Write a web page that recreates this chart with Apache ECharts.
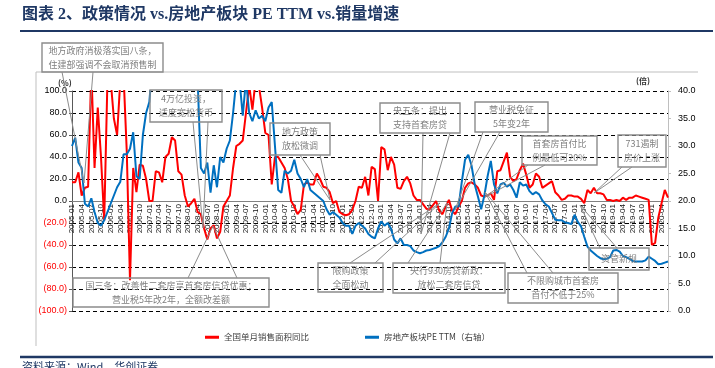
<!DOCTYPE html>
<html>
<head>
<meta charset="utf-8">
<script src="https://cdn.jsdelivr.net/npm/echarts@6/dist/echarts.min.js"></script>
<style>
  html, body { margin: 0; padding: 0; background: #fff; }
  #chart { width: 715px; height: 368px; }
</style>
</head>
<body>
<div id="chart"></div>
<script>
// 月份：2005-01 ~ 2020-06
const months = [];
for (let y = 2005; y <= 2020; y++) {
  for (let m = 1; m <= 12; m++) {
    if (y === 2020 && m > 6) break;
    months.push(y + '-' + String(m).padStart(2, '0'));
  }
}

// 全国单月销售面积同比（%，左轴）
const salesYoY = [
  17, 17, 26, 5, 12, 13, 120, 30, 85, 40, -18, 110,      // 2005
  110, 75, 60, 110, 115, 45, -72, 30, 8, 33, 32, 20,      // 2006
  0, 0, 27, 26, 17, 40, 43, 58, 55, 27, 24, 5,            // 2007
  -5, -2, 2, -10, -12, -25, -35, -25, -22, -34, -28, -5,  // 2008
  0, 5, 30, 50, 52, 55, 80, 105, 83, 110, 105, 85,        // 2009
  62, 60, 15, 40, 40, 35, 30, 20, 0, -5, -12, -8,         // 2010
  15, 17, 15, 15, 25, 20, 13, 12, 8, -2, 0, -10,          // 2011
  -12, -13, -12, -8, 0, 13, 12, 22, 5, 31, 29, 0,         // 2012
  49, 47, 28, 40, 33, 12, 11, 18, 22, 16, 5, 1,           // 2013
  1, -3, -7, -8, -4, 0, -9, -12, -5, 1, -9, -12,          // 2014
  -5, 0, 12, 16, 17, 15, 12, 5, 4, 5, 7, 1,               // 2015
  27, 28, 36, 44, 22, 18, 20, 28, 34, 24, 12, 15,         // 2016
  25, 22, 12, 14, 16, 18, 8, 5, 1, 2, 5, 5,               // 2017
  4, 4, 2, -2, 10, 7, 12, 7, 7, 6, 1, 1,                  // 2018
  0, 1, 0, 3, 1, 3, 3, 5, 4, 3, 2, 1,                     // 2019
  -40, -38, -15, -2, 10, 3                                // 2020
];

// 房地产板块PE TTM（倍，右轴）
const peTTM = [
  30, 31.5, 27, 26, 19.5, 19, 20.5, 18, 16, 15.5, 16.5, 18,           // 2005
  19.5, 21, 22.5, 23.5, 28.5, 28.5, 29.5, 32.5, 24.5, 24, 32, 36,     // 2006
  38, 45, 48, 55, 60, 62, 58, 65, 70, 68, 62, 55,                     // 2007
  58, 50, 45, 42, 26, 25, 27, 21.5, 26.5, 22.5, 28, 27,               // 2008
  29.5, 31, 36, 42, 42, 35.5, 42, 36, 34.5, 36.5, 35, 35.5,           // 2009
  34.5, 37, 38, 30, 22, 21.5, 25.5, 25, 25.5, 27.5, 25, 24,           // 2010
  22.5, 24, 22, 21.5, 21, 20.5, 20, 18.5, 17.5, 18, 17.5, 17,         // 2011
  16, 15.5, 15.5, 14, 15.5, 16, 15.5, 15, 14, 13.5, 13.2, 15,         // 2012
  16.3, 15.5, 16, 15, 13, 12.3, 13.2, 12, 12, 11.8, 11, 10.7,         // 2013
  10.5, 10.7, 11, 11.1, 11.3, 11.5, 11.8, 12.5, 13.5, 15, 17.8, 19,   // 2014
  19, 23.5, 27.5, 28.4, 26.5, 23, 20.8, 18.5, 21, 24.5, 27.3, 23,     // 2015
  21.4, 23, 23.3, 22.6, 23, 22, 20.6, 23.4, 22.8, 23, 21.8, 21.2,     // 2016
  21.6, 21.2, 20.1, 19.4, 19, 17.8, 16.6, 16.5, 16.5, 16.1, 16, 15.8, // 2017
  17.5, 16.2, 15.4, 13.5, 11.7, 11, 10.5, 10, 9.6, 9.4, 9.5, 9.8,     // 2018
  11, 11.1, 10.8, 10, 9.8, 9.5, 9.1, 9, 9, 9, 9.2, 9.9,               // 2019
  9.5, 9.1, 8.5, 8.6, 8.8, 9.0                                        // 2020
];

const leftTicks = { min: -100, max: 100, step: 20 };
const rightTicks = { min: 0, max: 40, step: 5 };

// 政策标注：文字、框、楔形指针
const notes = [
  { text: '地方政府消极落实国八条，\n住建部强调不会取消预售制', box: [42, 43, 121, 29], base: [[62, 72], [93, 72]], tip: [84, 183] },
  { text: '4万亿投资，\n适度宽松货币', box: [150, 90, 72, 32], base: [[193, 122], [208, 122]], tip: [203, 228] },
  { text: '地方政策\n放松微调', box: [270, 123, 60, 32], base: [[300, 155], [320, 155]], tip: [330, 200] },
  { text: '国三条：改善性二套房享首套房信贷优惠；\n营业税5年改2年，全额改差额', box: [73, 278, 196, 29], base: [[188, 278], [237, 278]], tip: [213, 226] },
  { text: '限购政策\n全面松动', box: [318, 263, 65, 29], base: [[350, 263], [375, 263]], tip: [440, 203] },
  { text: '央行930房贷新政：\n放松二套房信贷', box: [393, 263, 112, 30], base: [[408, 263], [440, 263]], tip: [447, 203] },
  { text: '不限购城市首套房\n首付不低于25%', box: [508, 273, 110, 30], base: [[527, 273], [553, 273]], tip: [485, 192] },
  { text: '资管新规', box: [589, 248, 60, 22], base: [[600, 248], [617, 248]], tip: [580, 205] },
  { text: '央五条：提出\n支持首套房贷', box: [380, 103, 80, 30], base: [[423, 133], [450, 133]], tip: [421, 234] },
  { text: '营业税免征\n5年变2年', box: [475, 102, 73, 30], base: [[483, 132], [500, 132]], tip: [455, 210] },
  { text: '首套房首付比\n例最低可20%', box: [522, 136, 75, 29], base: [[528, 165], [545, 165]], tip: [485, 197] },
  { text: '731遏制\n房价上涨', box: [618, 135, 48, 32], base: [[622, 167], [632, 167]], tip: [594, 193] }
];

const chart = echarts.init(document.getElementById('chart'));

const noteGraphics = [];
notes.forEach(n => {
  noteGraphics.push({
    type: 'polyline', z: 100, silent: true,
    shape: { points: [n.base[0], n.tip, n.base[1]] },
    style: { stroke: '#8c8c8c', lineWidth: 1, fill: null }
  });
  noteGraphics.push({
    type: 'rect', z: 100, silent: true,
    shape: { x: n.box[0], y: n.box[1], width: n.box[2], height: n.box[3] },
    style: { stroke: '#8c8c8c', lineWidth: 1.4, fill: null }
  });
  noteGraphics.push({
    type: 'text', z: 101, silent: true,
    x: n.box[0] + n.box[2] / 2, y: n.box[1] + n.box[3] / 2,
    style: {
      text: n.text, fill: '#7f7f7f', fontSize: 9, lineHeight: 14,
      fontFamily: '"Noto Sans CJK SC"', align: 'center', verticalAlign: 'middle'
    }
  });
});

const option = {
  animation: false,
  backgroundColor: '#fff',
  textStyle: { fontFamily: '"Liberation Sans", "Noto Sans CJK SC", sans-serif' },
  graphic: [
    { type: 'text', left: 22, top: 7,
      style: { text: '图表 2、政策情况 vs.房地产板块 PE TTM vs.销量增速', fill: '#1f3864',
        fontSize: 16, fontWeight: 'bold', fontFamily: '"Liberation Serif", "Noto Sans CJK SC"' } },
    { type: 'line', shape: { x1: 20, y1: 31, x2: 713, y2: 31 }, style: { stroke: '#1f3864', lineWidth: 2 } },
    { type: 'line', shape: { x1: 20, y1: 357, x2: 713, y2: 357 }, style: { stroke: '#1f3864', lineWidth: 2.5 } },
    { type: 'text', left: 22, top: 361,
      style: { text: '资料来源：Wind，华创证券', fill: '#1f3864', fontSize: 11, fontFamily: '"Noto Sans CJK SC"' } },
    { type: 'polyline', shape: { points: [[36, 346], [36, 72], [698, 72]] },
      style: { stroke: '#bfbfbf', lineWidth: 1, fill: null } },
    { type: 'text', left: 58, top: 79,
      style: { text: '(%)', fill: '#333', fontSize: 8, fontWeight: 'bold', fontFamily: '"Noto Sans CJK SC"' } },
    { type: 'text', left: 636, top: 77,
      style: { text: '(倍)', fill: '#333', fontSize: 8, fontWeight: 'bold', fontFamily: '"Noto Sans CJK SC"' } }
  ].concat(noteGraphics),
  legend: {
    left: 200, top: 328, itemWidth: 14, itemHeight: 3, itemGap: 56, icon: 'rect',
    textStyle: { fontSize: 8.5, color: '#404040', fontFamily: '"Noto Sans CJK SC"' },
    data: ['全国单月销售面积同比', '房地产板块PE TTM（右轴）']
  },
  grid: { left: 72, right: 47, top: 91, bottom: 57 },
  xAxis: {
    type: 'category',
    data: months,
    boundaryGap: false,
    offset: -110, // 坐标轴放在左轴 0 处
    axisLine: { onZero: false, lineStyle: { color: '#808080', width: 1 } },
    axisTick: { show: false },
    axisLabel: { interval: 2, rotate: 90, fontSize: 8, color: '#111', margin: 3 }
  },
  yAxis: [
    {
      type: 'value', min: leftTicks.min, max: leftTicks.max, interval: leftTicks.step,
      axisLine: { show: true, lineStyle: { color: '#595959' } },
      axisTick: { show: true, length: 3, lineStyle: { color: '#595959' } },
      splitLine: { show: true, lineStyle: { color: '#000', type: [4, 3], width: 1 } },
      axisLabel: {
        fontSize: 9, color: '#000', margin: 5,
        formatter: v => v < 0 ? '{n|(' + (-v).toFixed(1) + ')}' : v.toFixed(1),
        rich: { n: { color: '#ff0000', fontSize: 9 } }
      }
    },
    {
      type: 'value', min: rightTicks.min, max: rightTicks.max, interval: rightTicks.step,
      axisLine: { show: true, lineStyle: { color: '#bfbfbf' } },
      axisTick: { show: true, length: 3, lineStyle: { color: '#bfbfbf' } },
      splitLine: { show: false },
      axisLabel: { fontSize: 9, color: '#000', margin: 10, formatter: v => v.toFixed(1) }
    }
  ],
  series: [
    {
      name: '全国单月销售面积同比', type: 'line', yAxisIndex: 0, data: salesYoY,
      showSymbol: false, clip: true,
      lineStyle: { color: '#ff0000', width: 2 }, itemStyle: { color: '#ff0000' }
    },
    {
      name: '房地产板块PE TTM（右轴）', type: 'line', yAxisIndex: 1, data: peTTM,
      showSymbol: false, clip: true,
      lineStyle: { color: '#0070c0', width: 2 }, itemStyle: { color: '#0070c0' }
    }
  ]
};

chart.setOption(option);
</script>
</body>
</html>
